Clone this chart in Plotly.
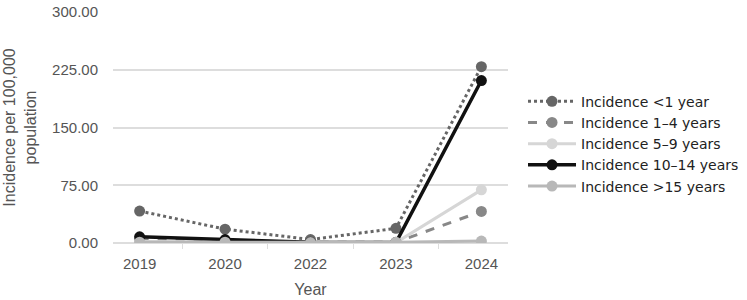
import plotly.graph_objects as go

years = ["2019", "2020", "2022", "2023", "2024"]
lt1 = [41.5, 18.0, 4.5, 19.0, 229.0]
y1_4 = [5.0, 3.0, 1.0, 1.0, 41.0]
y5_9 = [2.0, 1.5, 0.5, 0.5, 69.0]
y10_14 = [8.0, 4.5, 1.0, 0.5, 211.0]
gt15 = [1.0, 1.0, 0.5, 1.0, 2.5]

series = [
    ("Incidence <1 year", lt1, "#666666", "dot", 3),
    ("Incidence 1\u20134 years", y1_4, "#888888", "dash", 3),
    ("Incidence 5\u20139 years", y5_9, "#d6d6d6", "solid", 3),
    ("Incidence 10\u201314 years", y10_14, "#111111", "solid", 3.5),
    ("Incidence >15 years", gt15, "#b8b8b8", "solid", 3),
]

fig = go.Figure()
for name, vals, color, dash, w in series:
    fig.add_trace(go.Scatter(
        x=years, y=vals, name=name, mode="lines+markers",
        line=dict(color=color, dash=dash, width=w),
        marker=dict(color=color, size=11),
    ))

fig.update_layout(
    width=747, height=300,
    margin=dict(l=113, r=239, t=12, b=57, autoexpand=False),
    plot_bgcolor="white", paper_bgcolor="white",
    font=dict(family="Liberation Sans, Arial, sans-serif", color="#555555", size=15),
    legend=dict(
        x=1.038, xanchor="left", y=0.43, yanchor="middle",
        font=dict(family="DejaVu Sans", size=14, color="#222222"),
        tracegroupgap=0, itemwidth=48,
    ),
    xaxis=dict(
        type="category", automargin=False,
        title=dict(text="Year", standoff=12, font=dict(size=16)),
        showgrid=False, showline=False, zeroline=False,
        ticks="outside", tickson="boundaries", ticklen=5, tickcolor="#dddddd",
        tickfont=dict(size=15), ticklabelstandoff=10,
    ),
    yaxis=dict(
        automargin=False,
        range=[0, 300], tickvals=[0, 75, 150, 225, 300],
        tickformat=".2f", showgrid=True, gridcolor="#dddddd", gridwidth=1.5,
        zeroline=True, zerolinecolor="#dddddd", zerolinewidth=1.5,
        title=dict(text="Incidence per 100,000<br>population", font=dict(size=16), standoff=11),
        tickfont=dict(size=15), ticklabelstandoff=14,
    ),
)

fig.write_html("out.html")
